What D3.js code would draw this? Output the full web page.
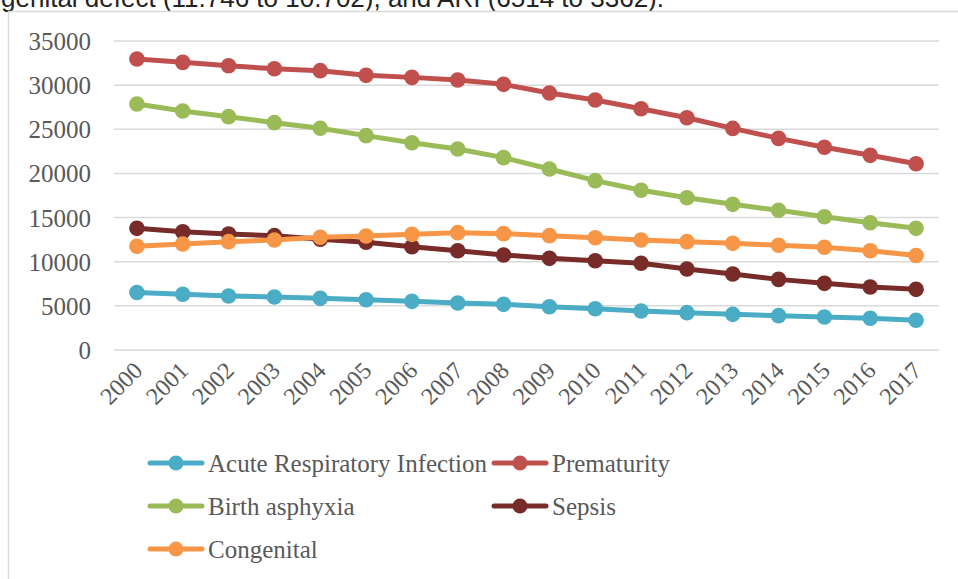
<!DOCTYPE html>
<meta charset="utf-8">
<style>
body { margin: 0; background: #fff; }
text { font-family: "Liberation Serif", serif; fill: #595959; }
</style>
<body>
<script src="https://d3js.org/d3.v7.min.js"></script>
<script>

var width = 958,
    height = 579;

// years on the category axis
var years = ["2000","2001","2002","2003","2004","2005","2006","2007","2008",
             "2009","2010","2011","2012","2013","2014","2015","2016","2017"];

var yTicks = [0, 5000, 10000, 15000, 20000, 25000, 30000, 35000];

// values
var ari         = [6514, 6310, 6120, 6000, 5850, 5700, 5510, 5320, 5170, 4900, 4680, 4420, 4230, 4040, 3890, 3740, 3590, 3362];
var prematurity = [32960, 32580, 32200, 31860, 31640, 31110, 30880, 30580, 30090, 29110, 28320, 27330, 26310, 25100, 23970, 22960, 22050, 21100];
var asphyxia    = [27860, 27070, 26430, 25750, 25110, 24280, 23480, 22770, 21790, 20500, 19180, 18090, 17250, 16500, 15820, 15100, 14420, 13780];
var sepsis      = [13780, 13400, 13140, 12950, 12540, 12200, 11700, 11250, 10760, 10380, 10110, 9820, 9170, 8610, 8000, 7550, 7140, 6870];
var congenital  = [11746, 12010, 12270, 12460, 12760, 12910, 13100, 13290, 13180, 12950, 12720, 12460, 12270, 12080, 11860, 11630, 11250, 10702];

var seriesNames  = ["Acute Respiratory Infection", "Prematurity", "Birth asphyxia", "Sepsis", "Congenital"];
var seriesValues = [ari, prematurity, asphyxia, sepsis, congenital];
var seriesColors = ["#4BACC6", "#C0504D", "#9BBB59", "#772C2A", "#F79646"];

var series = seriesNames.map(function(n, i){
  return {name: n, values: seriesValues[i], color: seriesColors[i]};
});
// draw order as in the picture (dark red under orange)
var drawOrder = [0, 2, 1, 3, 4];

var svg = d3.select("body").append("svg")
    .attr("width", width)
    .attr("height", height);

// sentence above the chart, cropped at the top as in the source
svg.append("text")
  .attr("x", 1)
  .attr("y", 7)
  .style("font-family", "'Liberation Sans', Arial, sans-serif")
  .style("font-size", "26px")
  .style("fill", "#222")
  .text("genital defect (11.746 to 10.702), and ARI (6514 to 3362).");

// chart frame
svg.append("rect")
  .attr("x", 8.5).attr("y", 11.5)
  .attr("width", 1000).attr("height", 700)
  .attr("fill", "none")
  .attr("stroke", "#d9d9d9")
  .attr("stroke-width", 1.5);

var x = d3.scaleBand().domain(years).range([114, 939]);
var y = d3.scaleLinear().domain([0, 35000]).range([350, 41]);

// gridlines
svg.append("g")
  .selectAll("line")
  .data(yTicks)
  .enter()
  .append("line")
  .attr("x1", 114).attr("x2", 939)
  .attr("y1", function(d){ return y(d); })
  .attr("y2", function(d){ return y(d); })
  .attr("stroke", "#d9d9d9")
  .attr("stroke-width", 1.5);

// y axis labels
var yAxis = svg.append("g")
  .attr("transform", "translate(91,0)")
  .call(d3.axisLeft(y).tickValues(yTicks).tickSize(0).tickPadding(0).tickFormat(d3.format("d")));
yAxis.select(".domain").remove();
yAxis.selectAll("text")
  .style("font-family", "'Liberation Serif', serif")
  .style("font-size", "25px")
  .attr("fill", "#595959")
  .attr("dy", "0.34em");

// x axis labels
var xAxis = svg.append("g")
  .attr("transform", "translate(0,350)")
  .call(d3.axisBottom(x).tickSize(0).tickPadding(0));
xAxis.select(".domain").remove();
xAxis.selectAll("text")
  .style("font-family", "'Liberation Serif', serif")
  .style("font-size", "24px")
  .attr("fill", "#595959")
  .attr("text-anchor", "end")
  .attr("dy", 0)
  .attr("transform", "translate(7,22) rotate(-45)");

var cx = function(i){ return x(years[i]) + x.bandwidth() / 2; };

var line = d3.line()
  .x(function(d, i){ return cx(i); })
  .y(function(d){ return y(d); });

drawOrder.forEach(function(k){
  var s = series[k];
  var g = svg.append("g");
  g.append("path")
    .datum(s.values)
    .attr("d", line)
    .attr("fill", "none")
    .attr("stroke", s.color)
    .attr("stroke-width", 5)
    .attr("stroke-linejoin", "round");
  g.selectAll("circle")
    .data(s.values)
    .enter()
    .append("circle")
    .attr("cx", function(d, i){ return cx(i); })
    .attr("cy", function(d){ return y(d); })
    .attr("r", 7.8)
    .attr("fill", s.color);
});

// legend
var legendPos = [
  {x: 148, y: 463}, {x: 492, y: 463},
  {x: 148, y: 506}, {x: 492, y: 506},
  {x: 148, y: 549}
];

var legend = svg.append("g")
  .selectAll("g")
  .data(series)
  .enter()
  .append("g")
  .attr("transform", function(d, i){ return "translate(" + legendPos[i].x + "," + legendPos[i].y + ")"; });

legend.append("line")
  .attr("x1", 2).attr("x2", 54)
  .attr("stroke", function(d){ return d.color; })
  .attr("stroke-width", 5)
  .attr("stroke-linecap", "round");
legend.append("circle")
  .attr("cx", 28).attr("r", 7.5)
  .attr("fill", function(d){ return d.color; });
legend.append("text")
  .attr("x", 60)
  .attr("dy", "0.34em")
  .style("font-size", "25px")
  .text(function(d){ return d.name; });

</script>
</body>
